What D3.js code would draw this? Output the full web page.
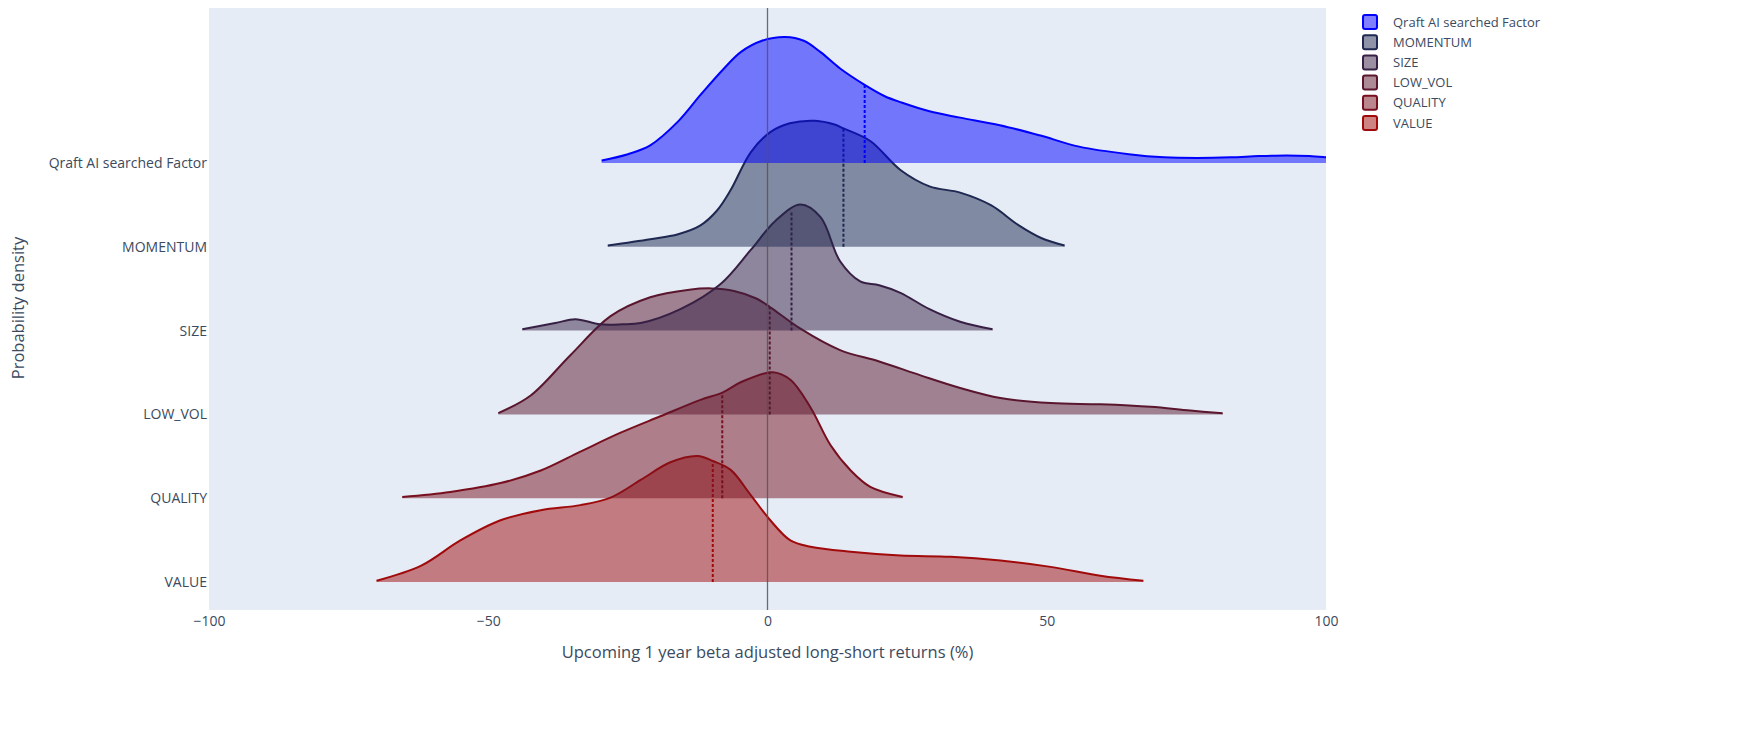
<!DOCTYPE html>
<html><head><meta charset="utf-8">
<script src="https://cdn.jsdelivr.net/npm/d3@7"></script>
<style>body{margin:0;background:#fff;} svg{display:block;font-family:"Open Sans",sans-serif;}</style>
</head><body><svg id="c" width="1752" height="740"></svg>
<script>
const categories = ["Qraft AI searched Factor","MOMENTUM","SIZE","LOW_VOL","QUALITY","VALUE"];
const lineColors = ["rgb(0,0,255)","rgb(30,40,80)","rgb(55,32,68)","rgb(90,22,45)","rgb(120,15,30)","rgb(160,10,10)"];
// density curves: x = return (%), d = relative density (peak = 1)
const qraftX = [-29.7,-25,-21,-16,-12,-8,-4.8,-1,3.2,6.5,9.5,13,17.4,21,24,29,34.5,41.6,48.7,55.8,64.7,71,77,83,88,93,97,100,106];
const qraftD = [0.02,0.07,0.14,0.33,0.54,0.74,0.88,0.97,1.0,0.97,0.88,0.75,0.62,0.53,0.48,0.41,0.36,0.30,0.22,0.13,0.07,0.045,0.04,0.045,0.055,0.06,0.055,0.045,0.02];
const momX = [-28.6,-21,-16,-12,-9,-6.6,-3,0.5,4,8.5,12,13.6,18.4,23.8,29,34.5,40,45,49,53.2];
const momD = [0.01,0.06,0.1,0.17,0.29,0.45,0.75,0.91,0.98,1.0,0.97,0.94,0.84,0.61,0.48,0.43,0.33,0.17,0.07,0.01];
const sizeX = [-43.9,-38,-34.4,-30,-26,-22.7,-15.6,-8.4,-3,1.4,5.9,9.5,13,16.6,20,23.8,29,34.5,40.3];
const sizeD = [0.01,0.06,0.09,0.05,0.05,0.06,0.17,0.37,0.64,0.87,1.0,0.9,0.55,0.39,0.36,0.3,0.17,0.07,0.01];
const lowvolX = [-48.2,-42.4,-35.3,-28.1,-21,-14,-10,-6,-2,0.5,5.9,13,20,27.4,34.5,41.7,50.7,59.6,68.6,75.7,81.5];
const lowvolD = [0.01,0.15,0.47,0.78,0.93,0.99,1.0,0.98,0.92,0.85,0.68,0.51,0.42,0.31,0.21,0.13,0.09,0.08,0.06,0.03,0.01];
const qualX = [-65.4,-56.8,-47.8,-40.6,-33.5,-26.3,-19.2,-12,-8,-4.8,0.9,4.1,7.7,11.3,14.9,18.4,24.2];
const qualD = [0.01,0.05,0.12,0.22,0.37,0.52,0.65,0.78,0.84,0.92,1.0,0.94,0.72,0.42,0.22,0.09,0.01];
const valX = [-70,-62,-55,-47.8,-40.6,-33.5,-28.1,-22.7,-17.4,-12.5,-9.8,-6.6,-3,0.5,4.1,7.7,14.9,23.8,32.8,41.7,50.7,59.6,67.3];
const valD = [0.01,0.13,0.33,0.49,0.57,0.61,0.67,0.81,0.95,1.0,0.96,0.89,0.69,0.49,0.33,0.28,0.24,0.21,0.2,0.17,0.12,0.05,0.01];
const means = [17.4,13.6,4.3,0.4,-8.1,-9.8];
const xTicks = [-100,-50,0,50,100];

const seriesX = [qraftX,momX,sizeX,lowvolX,qualX,valX];
const seriesD = [qraftD,momD,sizeD,lowvolD,qualD,valD];

const svg = d3.select("#c");
const L=209, R=1326, T=8, B=610;
const x = d3.scaleLinear().domain([-100,100]).range([L,R]);
const y = d3.scalePoint().domain(categories).range([163,582]);
const h = d3.scaleLinear().domain([0,1]).range([0,126]);
const textCol = "#3b4a5e";

svg.append("rect").attr("x",L).attr("y",T).attr("width",R-L).attr("height",B-T).attr("fill","#e5ecf6");
svg.append("clipPath").attr("id","clip").append("rect").attr("x",L).attr("y",T).attr("width",R-L).attr("height",B-T);

const gPlot = svg.append("g").attr("clip-path","url(#clip)");
const zl = x(0);
const curve = d3.curveCatmullRom.alpha(0.5);

const order = d3.range(categories.length).reverse();
order.forEach(i=>{
  const pts = seriesX[i].map((v,j)=>[v,seriesD[i][j]]);
  const base = y(categories[i]);
  const g = gPlot.append("g");
  const area = d3.area().x(d=>x(d[0])).y0(base).y1(d=>base-h(d[1])).curve(curve);
  const line = d3.line().x(d=>x(d[0])).y(d=>base-h(d[1])).curve(curve);
  g.append("path").attr("d",area(pts)).attr("fill",lineColors[i]).attr("fill-opacity",0.5);
  g.append("path").attr("d",line(pts)).attr("fill","none").attr("stroke",lineColors[i]).attr("stroke-width",2);
  const m = means[i];
  const k = d3.bisector(d=>d[0]).left(pts,m);
  const a = pts[Math.max(0,k-1)], b = pts[Math.min(pts.length-1,k)];
  const t = b[0]===a[0]?0:(m-a[0])/(b[0]-a[0]);
  const dv = a[1]+(b[1]-a[1])*t;
  g.append("line").attr("x1",x(m)).attr("x2",x(m)).attr("y1",base).attr("y2",base-h(dv))
    .attr("stroke",lineColors[i]).attr("stroke-width",2).attr("stroke-dasharray","3,2");
});

gPlot.append("line").attr("x1",zl).attr("x2",zl).attr("y1",T).attr("y2",B).attr("stroke","#555").attr("stroke-width",1.3).attr("opacity",0.85);

const xa = svg.append("g").attr("transform",`translate(0,${B})`)
  .call(d3.axisBottom(x).tickValues(xTicks).tickSize(0).tickPadding(6).tickFormat(d=>d<0?"\u2212"+Math.abs(d):d));
xa.select(".domain").remove();
xa.selectAll("text").attr("fill",textCol).attr("font-size",14).attr("font-family","Open Sans, sans-serif");

const ya = svg.append("g").attr("transform",`translate(${L},0)`)
  .call(d3.axisLeft(y).tickSize(0).tickPadding(2));
ya.select(".domain").remove();
ya.selectAll("text").attr("fill",textCol).attr("font-size",14).attr("font-family","Open Sans, sans-serif");

svg.append("text").attr("x",(L+R)/2).attr("y",658).attr("text-anchor","middle").attr("fill",textCol)
  .attr("font-size",16.5).text("Upcoming 1 year beta adjusted long-short returns (%)");
svg.append("text").attr("transform","translate(24,308) rotate(-90)").attr("text-anchor","middle").attr("fill",textCol)
  .attr("font-size",16.5).text("Probability density");

const lg = svg.append("g").attr("transform","translate(1362,14)");
categories.forEach((c,i)=>{
  const row = lg.append("g").attr("transform",`translate(0,${i*20.2})`);
  row.append("rect").attr("x",1).attr("y",1).attr("width",14).attr("height",14).attr("rx",2)
    .attr("fill",lineColors[i]).attr("fill-opacity",0.5).attr("stroke",lineColors[i]).attr("stroke-width",2);
  row.append("text").attr("x",31).attr("y",12.5).attr("fill",textCol).attr("font-size",13).text(c);
});
</script></body></html>
